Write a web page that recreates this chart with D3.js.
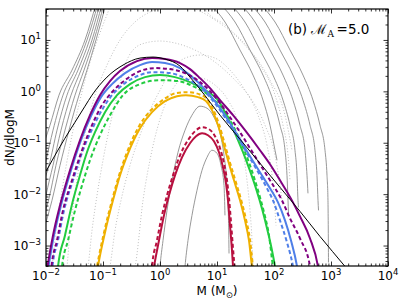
<!DOCTYPE html>
<html><head><meta charset="utf-8">
<script src="https://cdn.jsdelivr.net/npm/d3@7"></script>
<style>body{margin:0;background:#fff}svg{display:block}</style>
</head><body>
<svg id="chart" width="407" height="305"></svg>
<script>
// ---- data: log10(M / Msun) and log10(dN/dlogM) ----
const xTickExp = [-2,-1,0,1,2,3,4];
const yTickExp = [-3,-2,-1,0,1];
const annotation = "\u2009=5.0";

const blackLogM = [-2.0,-1.842,-1.667,-1.491,-1.316,-1.193,-0.930,-0.649,-0.351,-0.123,0.088,0.351,0.526,0.702,0.877,1.053,1.404,1.754,2.105,2.456,2.807,3.246,3.333];
const blackLogN = [-1.556,-1.244,-0.912,-0.600,-0.289,-0.074,0.277,0.511,0.647,0.667,0.628,0.491,0.277,0.043,-0.211,-0.464,-0.932,-1.400,-1.867,-2.335,-2.823,-3.407,-3.524];

const purpleLogM = [-1.991,-1.974,-1.877,-1.754,-1.579,-1.404,-1.228,-1.053,-0.877,-0.702,-0.404,-0.140,0.088,0.351,0.526,0.702,0.877,1.053,1.281,1.491,1.754,1.930,2.105,2.333,2.456,2.632,2.772,2.789];
const purpleLogN = [-3.524,-3.407,-2.803,-2.218,-1.536,-0.951,-0.464,-0.074,0.199,0.394,0.589,0.647,0.628,0.550,0.433,0.257,0.062,-0.172,-0.464,-0.756,-1.146,-1.419,-1.731,-2.160,-2.433,-2.862,-3.407,-3.524];

const purpleDashLogM = [-1.912,-1.904,-1.807,-1.702,-1.544,-1.368,-1.193,-1.018,-0.842,-0.614,-0.351,-0.088,0.175,0.439,0.702,0.877,1.053,1.228,1.404,1.579,1.754,1.930,2.140,2.281,2.456,2.632,2.649];
const purpleDashLogN = [-3.524,-3.407,-2.901,-2.316,-1.731,-1.146,-0.659,-0.269,-0.016,0.218,0.394,0.452,0.433,0.355,0.179,0.004,-0.230,-0.503,-0.795,-1.107,-1.419,-1.731,-2.121,-2.472,-2.862,-3.407,-3.524];

const blueLogM = [-1.974,-1.956,-1.860,-1.737,-1.561,-1.386,-1.211,-1.035,-0.842,-0.614,-0.351,-0.140,0.088,0.351,0.526,0.702,0.877,1.053,1.228,1.404,1.579,1.754,1.930,2.070,2.193,2.298,2.404,2.421];
const blueLogN = [-3.524,-3.407,-2.803,-2.218,-1.536,-0.951,-0.483,-0.113,0.140,0.355,0.511,0.569,0.550,0.452,0.316,0.140,-0.074,-0.328,-0.620,-0.932,-1.263,-1.575,-1.887,-2.160,-2.511,-2.901,-3.407,-3.524];

const blueDashLogM = [-1.895,-1.886,-1.789,-1.684,-1.526,-1.351,-1.175,-1.000,-0.842,-0.614,-0.351,-0.140,0.175,0.439,0.702,0.877,1.053,1.228,1.404,1.579,1.754,1.877,1.982,2.105,2.228,2.333,2.351];
const blueDashLogN = [-3.524,-3.407,-2.901,-2.316,-1.731,-1.146,-0.698,-0.328,-0.074,0.160,0.316,0.374,0.355,0.257,0.082,-0.113,-0.366,-0.659,-0.971,-1.302,-1.634,-1.887,-2.121,-2.511,-2.940,-3.407,-3.524];

const greenLogM = [-1.798,-1.789,-1.667,-1.526,-1.404,-1.281,-1.140,-0.965,-0.754,-0.526,-0.263,0.0,0.263,0.526,0.789,1.018,1.193,1.368,1.544,1.684,1.789,1.895,1.965,2.018,2.035];
const greenLogN = [-3.524,-3.407,-2.803,-2.121,-1.634,-1.185,-0.795,-0.405,-0.074,0.140,0.277,0.316,0.277,0.179,0.023,-0.172,-0.522,-0.951,-1.439,-1.887,-2.277,-2.745,-3.095,-3.407,-3.524];

const greenDashLogM = [-1.728,-1.719,-1.614,-1.491,-1.368,-1.228,-1.053,-0.877,-0.649,-0.351,0.0,0.316,0.614,0.877,1.053,1.228,1.404,1.579,1.719,1.825,1.912,1.982,2.000];
const greenDashLogN = [-3.524,-3.407,-2.901,-2.316,-1.829,-1.341,-0.854,-0.464,-0.074,0.140,0.218,0.199,0.082,-0.094,-0.289,-0.561,-0.951,-1.439,-1.926,-2.355,-2.803,-3.407,-3.524];

const orangeLogM = [-1.105,-1.088,-0.965,-0.825,-0.702,-0.561,-0.351,-0.140,0.088,0.298,0.456,0.667,0.807,0.912,1.018,1.105,1.193,1.298,1.404,1.491,1.561,1.614,1.632];
const orangeLogN = [-3.524,-3.407,-2.745,-2.121,-1.634,-1.205,-0.717,-0.405,-0.191,-0.094,-0.074,-0.113,-0.191,-0.366,-0.659,-0.990,-1.341,-1.731,-2.121,-2.511,-2.901,-3.407,-3.524];

const orangeDashLogM = [-1.123,-1.105,-0.982,-0.842,-0.719,-0.579,-0.368,-0.158,0.070,0.281,0.491,0.684,0.825,0.930,1.035,1.123,1.211,1.316,1.421,1.509,1.579,1.632,1.649];
const orangeDashLogN = [-3.524,-3.407,-2.745,-2.121,-1.634,-1.185,-0.678,-0.366,-0.152,-0.035,-0.016,-0.055,-0.152,-0.347,-0.639,-0.971,-1.322,-1.712,-2.101,-2.491,-2.881,-3.407,-3.524];

const crimsonLogM = [-0.123,-0.105,-0.018,0.070,0.158,0.263,0.386,0.526,0.632,0.737,0.842,0.947,1.035,1.105,1.158,1.193,1.228,1.263,1.281,1.289];
const crimsonLogN = [-3.524,-3.407,-2.901,-2.413,-2.023,-1.634,-1.283,-1.010,-0.873,-0.815,-0.854,-0.971,-1.185,-1.478,-1.790,-2.121,-2.608,-3.095,-3.407,-3.524];

const crimsonDashLogM = [-0.149,-0.140,-0.053,0.035,0.123,0.228,0.351,0.491,0.614,0.737,0.860,0.965,1.053,1.123,1.175,1.211,1.246,1.281,1.307,1.316];
const crimsonDashLogN = [-3.524,-3.407,-2.901,-2.413,-2.023,-1.634,-1.244,-0.951,-0.776,-0.698,-0.737,-0.873,-1.107,-1.400,-1.731,-2.082,-2.550,-3.056,-3.407,-3.524];

// thin grey solid curves (narrow ones in the middle)
const greyNarrowOuterLogM = [-0.009,0.0,0.053,0.123,0.211,0.316,0.439,0.561,0.702,0.825,0.947,1.053,1.123,1.175,1.202,1.211];
const greyNarrowOuterLogN = [-3.524,-3.407,-2.901,-2.316,-1.731,-1.185,-0.756,-0.464,-0.289,-0.328,-0.503,-0.815,-1.244,-1.829,-2.511,-3.154];
const greyNarrowInnerLogM = [0.430,0.439,0.491,0.561,0.649,0.737,0.825,0.912,1.000,1.070,1.123,1.140];
const greyNarrowInnerLogN = [-3.524,-3.407,-2.901,-2.413,-1.926,-1.536,-1.283,-1.146,-1.205,-1.439,-1.829,-2.413];

// big grey solid arcs: rising branches (left) and falling branches (right)
const greyRiseALogM = [-0.947,-1.123,-1.281,-1.421,-1.596,-1.754,-1.895,-2.0];
const greyRiseALogN = [1.700,0.998,0.413,-0.074,-0.756,-1.439,-2.121,-2.550];
const greyRiseBLogM = [-0.982,-1.158,-1.333,-1.491,-1.667,-1.825,-1.947,-2.018];
const greyRiseBLogN = [1.700,0.998,0.413,-0.074,-0.756,-1.439,-2.082,-2.355];
const greyRiseCLogM = [-1.018,-1.193,-1.386,-1.561,-1.737,-1.877,-2.0,-2.035];
const greyRiseCLogN = [1.700,0.998,0.413,-0.074,-0.756,-1.439,-2.023,-2.218];
const greyRiseDLogM = [-1.053,-1.237,-1.439,-1.632,-1.807,-1.947,-2.018];
const greyRiseDLogN = [1.700,0.998,0.413,-0.074,-0.756,-1.439,-1.692];
const greyRiseELogM = [-1.088,-1.281,-1.491,-1.702,-1.877,-2.0,-2.035];
const greyRiseELogN = [1.700,0.998,0.413,-0.074,-0.756,-1.341,-1.497];
const greyRiseFLogM = [-1.123,-1.316,-1.544,-1.772,-1.930,-2.018];
const greyRiseFLogN = [1.700,0.998,0.413,-0.074,-0.659,-0.951];

const greyFallALogM = [0.877,1.140,1.404,1.632,1.807,1.930,2.018,2.053];
const greyFallALogN = [1.700,1.349,0.803,0.316,-0.172,-0.659,-1.146,-1.341];
const greyFallBLogM = [1.053,1.316,1.579,1.807,1.982,2.105,2.193,2.228,2.246,2.254];
const greyFallBLogN = [1.700,1.349,0.803,0.316,-0.172,-0.659,-1.146,-1.634,-2.121,-2.374];
const greyFallCLogM = [1.228,1.491,1.754,1.982,2.158,2.281,2.368,2.404,2.421,2.430];
const greyFallCLogN = [1.700,1.349,0.803,0.316,-0.172,-0.659,-1.146,-1.634,-2.121,-2.257];
const greyFallDLogM = [1.404,1.667,1.930,2.158,2.333,2.456,2.544,2.579,2.596];
const greyFallDLogN = [1.700,1.349,0.803,0.316,-0.172,-0.659,-1.146,-1.634,-1.984];
const greyFallELogM = [1.579,1.842,2.105,2.333,2.509,2.632,2.719,2.754,2.772,2.781];
const greyFallELogN = [1.700,1.349,0.803,0.316,-0.172,-0.659,-1.146,-1.634,-2.121,-2.316];
const greyFallFLogM = [1.754,2.018,2.281,2.509,2.684,2.807,2.895,2.930,2.947,2.956];
const greyFallFLogN = [1.700,1.349,0.803,0.316,-0.172,-0.659,-1.146,-1.634,-2.121,-3.329];

// dotted grey curves
const dot1LogM = [-0.474,-0.439,-0.298,-0.140,0.053,0.211,0.439,0.702,0.965,1.193,1.351,1.456,1.526,1.579,1.614,1.632,1.640];
const dot1LogN = [-3.524,-3.407,-2.121,-1.146,-0.366,0.023,0.257,0.257,0.121,-0.172,-0.561,-1.146,-1.731,-2.316,-2.901,-3.407,-3.524];
const dot2LogM = [-0.895,-0.877,-0.789,-0.684,-0.526,-0.351,-0.175,0.0,0.175,0.439,0.702,0.965,1.228,1.491,1.719,1.877,1.965,2.018,2.035];
const dot2LogN = [-3.524,-3.407,-2.706,-2.121,-1.439,-0.854,-0.366,0.023,0.374,0.647,0.706,0.647,0.413,0.023,-0.464,-1.049,-1.634,-2.316,-2.608];
const dot3LogM = [-1.281,-1.263,-1.193,-1.105,-1.000,-0.877,-0.737,-0.614,-0.474,-0.263,0.0,0.263,0.614,0.965,1.316,1.614,1.842,2.018,2.105,2.140];
const dot3LogN = [-3.524,-3.407,-2.706,-2.023,-1.341,-0.659,-0.016,0.511,0.803,0.940,0.979,0.940,0.803,0.569,0.218,-0.172,-0.659,-1.244,-1.829,-2.121];
const dot4LogM = [-1.649,-1.632,-1.579,-1.509,-1.404,-1.281,-1.140,-0.930,-0.702,-0.439,-0.175,0.088,0.351,0.614,0.965,1.404,1.754,2.018,2.158,2.246,2.281];
const dot4LogN = [-3.524,-3.407,-2.706,-2.121,-1.341,-0.659,-0.074,0.511,0.998,1.349,1.544,1.641,1.661,1.602,1.388,0.998,0.511,-0.074,-0.659,-1.244,-1.731];
const dot5RiseLogM = [-1.912,-1.895,-1.825,-1.719,-1.579,-1.404,-1.228,-1.053,-0.912,-0.842];
const dot5RiseLogN = [-3.524,-3.407,-2.706,-1.926,-1.049,-0.172,0.569,1.134,1.544,1.739];
const dot5FallLogM = [0.754,0.789,1.140,1.579,1.930,2.193,2.316];
const dot5FallLogN = [1.739,1.602,1.290,0.803,0.218,-0.464,-1.146];

// ---- drawing ----
const m = {l:46, r:388, t:9, b:266};
const svg = d3.select("#chart");
const x = d3.scaleLog().domain([1e-2, 1e4]).range([m.l, m.r]);
const y = d3.scaleLog().domain([4e-4, 40]).range([m.b, m.t]);

svg.append("defs").append("clipPath").attr("id","clip")
  .append("rect").attr("x",m.l).attr("y",m.t).attr("width",m.r-m.l).attr("height",m.b-m.t);

const zip = (a,b) => a.map((v,i)=>[Math.pow(10,v), Math.pow(10,b[i])]);
const line = d3.line().x(d=>x(d[0])).y(d=>y(d[1])).curve(d3.curveMonotoneX);
const g = svg.append("g").attr("clip-path","url(#clip)");

function draw(lm, ln, color, width, dash){
  g.append("path").datum(zip(lm, ln)).attr("d", line)
    .attr("fill","none").attr("stroke",color).attr("stroke-width",width)
    .attr("stroke-dasharray", dash || null).attr("stroke-linejoin","round");
}

const dotCol = "#b8b8b8", dotDash = "1,2";
[[dot1LogM,dot1LogN],[dot2LogM,dot2LogN],[dot3LogM,dot3LogN],[dot4LogM,dot4LogN],
 [dot5RiseLogM,dot5RiseLogN],[dot5FallLogM,dot5FallLogN]]
 .forEach(([a,b])=>draw(a,b,dotCol,0.9,dotDash));

const greyCol = "#8c8c8c";
[[greyRiseALogM,greyRiseALogN],[greyRiseBLogM,greyRiseBLogN],[greyRiseCLogM,greyRiseCLogN],
 [greyRiseDLogM,greyRiseDLogN],[greyRiseELogM,greyRiseELogN],[greyRiseFLogM,greyRiseFLogN],
 [greyFallALogM,greyFallALogN],[greyFallBLogM,greyFallBLogN],[greyFallCLogM,greyFallCLogN],
 [greyFallDLogM,greyFallDLogN],[greyFallELogM,greyFallELogN],[greyFallFLogM,greyFallFLogN],
 [greyNarrowOuterLogM,greyNarrowOuterLogN],[greyNarrowInnerLogM,greyNarrowInnerLogN]]
 .forEach(([a,b])=>draw(a,b,greyCol,0.9));

const purple="#800080", blue="#4f7fe8", green="#22cc40", orange="#efb000", crimson="#b8103f";
const dash="4,2.6";
draw(greenDashLogM, greenDashLogN, green, 2, dash);
draw(greenLogM, greenLogN, green, 2);
draw(blueDashLogM, blueDashLogN, blue, 2, dash);
draw(blueLogM, blueLogN, blue, 2);
draw(purpleDashLogM, purpleDashLogN, purple, 2, dash);
draw(purpleLogM, purpleLogN, purple, 2);
draw(orangeDashLogM, orangeDashLogN, orange, 2, dash);
draw(orangeLogM, orangeLogN, orange, 2);
draw(crimsonDashLogM, crimsonDashLogN, crimson, 2, dash);
draw(crimsonLogM, crimsonLogN, crimson, 2);
draw(blackLogM, blackLogN, "#000", 1);

// ---- axes (ticks inward on all four sides) ----
const xMajor = xTickExp.map(e=>Math.pow(10,e));
const yMajor = yTickExp.map(e=>Math.pow(10,e));
const isDecade = v => Math.abs(Math.log10(v) - Math.round(Math.log10(v))) < 1e-6;
const xMinor = x.ticks().filter(v=>!isDecade(v));
const yMinor = y.ticks().filter(v=>!isDecade(v));

function ax(gen, scale, vals, size, tr){
  const a = svg.append("g").attr("transform", tr)
    .call(gen(scale).tickValues(vals).tickSizeInner(size).tickSizeOuter(0).tickFormat(""));
  a.select(".domain").remove();
  a.selectAll("line").attr("stroke","#000").attr("stroke-width",0.8);
}
ax(d3.axisBottom, x, xMajor, -4.5, `translate(0,${m.b})`);
ax(d3.axisBottom, x, xMinor, -2.5, `translate(0,${m.b})`);
ax(d3.axisTop, x, xMajor, -4.5, `translate(0,${m.t})`);
ax(d3.axisTop, x, xMinor, -2.5, `translate(0,${m.t})`);
ax(d3.axisLeft, y, yMajor, -4.5, `translate(${m.l},0)`);
ax(d3.axisLeft, y, yMinor, -2.5, `translate(${m.l},0)`);
ax(d3.axisRight, y, yMajor, -4.5, `translate(${m.r},0)`);
ax(d3.axisRight, y, yMinor, -2.5, `translate(${m.r},0)`);

svg.append("rect").attr("x",m.l).attr("y",m.t).attr("width",m.r-m.l).attr("height",m.b-m.t)
  .attr("fill","none").attr("stroke","#000").attr("stroke-width",1.2);

const font = "DejaVu Sans, Liberation Sans, sans-serif";
const minus = e => (e<0 ? "\u2212"+(-e) : ""+e);
xTickExp.forEach(e=>{
  const t = svg.append("text").attr("x", x(Math.pow(10,e))).attr("y", 280)
    .attr("text-anchor","middle").attr("font-family",font).attr("font-size",12).attr("fill","#000");
  t.append("tspan").text("10");
  t.append("tspan").attr("dy",-5).attr("font-size",8.5).text(minus(e));
});
yTickExp.forEach(e=>{
  const t = svg.append("text").attr("x", 41).attr("y", y(Math.pow(10,e))+4.5)
    .attr("text-anchor","end").attr("font-family",font).attr("font-size",12).attr("fill","#000");
  t.append("tspan").text("10");
  t.append("tspan").attr("dy",-5).attr("font-size",8.5).text(minus(e));
});

// axis titles
const xt = svg.append("text").attr("x", (m.l+m.r)/2).attr("y", 295)
  .attr("text-anchor","middle").attr("font-family",font).attr("font-size",12);
xt.append("tspan").text("M (M");
xt.append("tspan").attr("dy",3).attr("font-size",8.5).text("\u2299");
xt.append("tspan").attr("dy",-3).text(")");

svg.append("text").attr("transform",`translate(14,${(m.t+m.b)/2}) rotate(-90)`)
  .attr("text-anchor","middle").attr("font-family",font).attr("font-size",12).text("dN/dlogM");

// panel annotation
const an = svg.append("text").attr("x", 288).attr("y", 34)
  .attr("font-family",font).attr("font-size",13.5);
an.append("tspan").text("(b) ");
an.append("tspan").attr("font-family","DejaVu Serif, serif").text("\u2133");
an.append("tspan").attr("dy",3).attr("font-size",9).attr("font-family","DejaVu Serif, serif").text("A");
an.append("tspan").attr("dy",-3).text(annotation);
</script>
</body></html>
